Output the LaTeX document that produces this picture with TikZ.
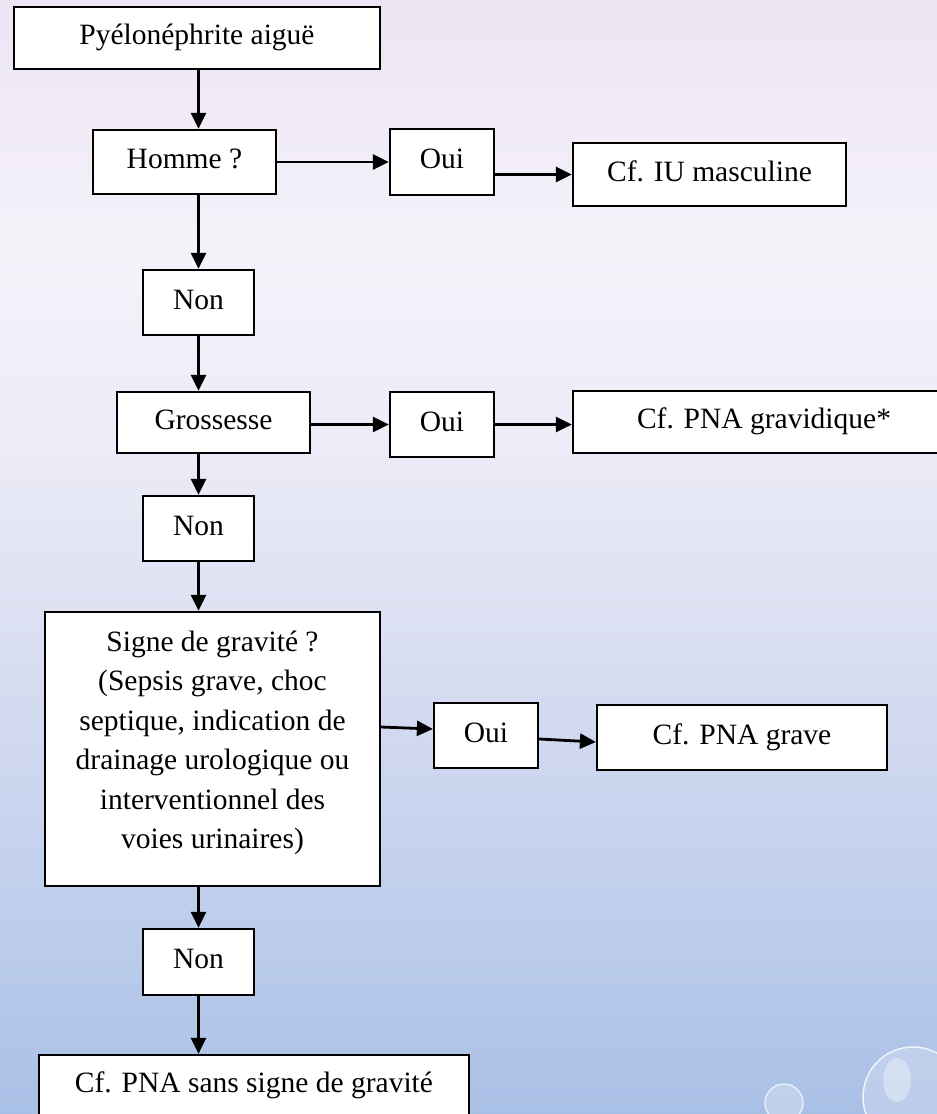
\documentclass[tikz,border=0pt]{standalone}
\usepackage{fontspec}
\setmainfont{Liberation Serif}
\usetikzlibrary{arrows.meta}

\definecolor{fondA}{rgb}{0.925, 0.898, 0.957}
\definecolor{fondB}{rgb}{0.961, 0.949, 0.980}
\definecolor{fondC}{rgb}{0.925, 0.922, 0.969}
\definecolor{fondD}{rgb}{0.851, 0.871, 0.945}
\definecolor{fondE}{rgb}{0.773, 0.824, 0.933}
\definecolor{fondF}{rgb}{0.663, 0.753, 0.902}

\begin{document}
\begin{tikzpicture}[x=1pt, y=-1pt,
    boite/.style={draw, fill=white, line width=2.2pt, inner sep=0pt, font=\fontsize{29.5}{39.5}\selectfont},
    ligne/.style={boite, text height=20pt, text depth=7pt},
    fleche/.style={-{Triangle[length=16pt,width=15pt]}, line width=2.8pt}]
        \useasboundingbox (0, 0) rectangle (937, 1114);

        % fond
        \shade[top color=fondA, bottom color=fondB] (0, 0) rectangle (937, 250);
        \shade[top color=fondB, bottom color=fondC] (0, 250) rectangle (937, 450);
        \shade[top color=fondC, bottom color=fondD] (0, 450) rectangle (937, 650);
        \shade[top color=fondD, bottom color=fondE] (0, 650) rectangle (937, 850);
        \shade[top color=fondE, bottom color=fondF] (0, 850) rectangle (937, 1114);

        % bulles
        \fill[white, fill opacity=0.25] (784, 1103) circle (19);
        \draw[white, opacity=0.8, line width=1.2pt] (784, 1103) circle (19);
        \fill[white, fill opacity=0.2] (913, 1097) circle (50);
        \draw[white, opacity=0.8, line width=1.5pt] (913, 1097) circle (50);
        \fill[white, fill opacity=0.35] (897, 1080) ellipse (14 and 22);

        \node[ligne, minimum width=366, minimum height=62] (pyelo) at (197, 38) {Pyélonéphrite aiguë};
        \node[ligne, minimum width=183, minimum height=64] (homme) at (184.5, 162) {Homme ?};
        \node[ligne, minimum width=104, minimum height=66] (oui1) at (442, 162) {Oui};
        \node[ligne, minimum width=273, minimum height=63] (iu) at (709.5, 174.5) {Cf. IU masculine};
        \node[ligne, minimum width=111, minimum height=65] (non1) at (198.5, 302.5) {Non};
        \node[ligne, minimum width=193, minimum height=61] (grossesse) at (213.5, 422.5) {Grossesse};
        \node[ligne, minimum width=104, minimum height=65] (oui2) at (442, 424.5) {Oui};
        \node[ligne, minimum width=382, minimum height=62] (gravidique) at (764, 422) {Cf. PNA gravidique*};
        \node[ligne, minimum width=111, minimum height=65] (non2) at (198.5, 528.5) {Non};
        \node[boite, align=center, minimum width=335, minimum height=274] (gravite) at (212.5, 749)
            {Signe de gravité ?\\(Sepsis grave, choc\\septique, indication de\\drainage urologique ou\\interventionnel des\\voies urinaires)\rule[-19pt]{0pt}{0pt}};
        \node[ligne, minimum width=104, minimum height=65] (oui3) at (486, 735.5) {Oui};
        \node[ligne, minimum width=290, minimum height=65] (grave) at (742, 737.5) {Cf. PNA grave};
        \node[ligne, minimum width=111, minimum height=66] (non3) at (198.5, 962) {Non};
        \node[ligne, minimum width=430, minimum height=62] (sans) at (254, 1086) {Cf. PNA sans signe de gravité};

        \draw[fleche] (pyelo.south -| non1) -- (homme.north -| non1);
        \draw[fleche] (homme) -- (oui1);
        \draw[fleche] (oui1.east |- iu.west) -- (iu.west);
        \draw[fleche] (homme.south -| non1) -- (non1);
        \draw[fleche] (non1) -- (grossesse.north -| non1);
        \draw[fleche] (grossesse.east |- oui2.west) -- (oui2.west);
        \draw[fleche] (oui2) -- (oui2 -| gravidique.west);
        \draw[fleche] (grossesse.south -| non2) -- (non2);
        \draw[fleche] (non2) -- (gravite.north -| non2);
        \draw[fleche] ([yshift=22pt]gravite.east) -- ([yshift=6.5pt]oui3.west); % oui, pente legere
        \draw[fleche] ([yshift=-3.5pt]oui3.east) -- ([yshift=-4.5pt]grave.west);
        \draw[fleche] (gravite.south -| non3) -- (non3);
        \draw[fleche] (non3) -- (sans.north -| non3);
\end{tikzpicture}
\end{document}
